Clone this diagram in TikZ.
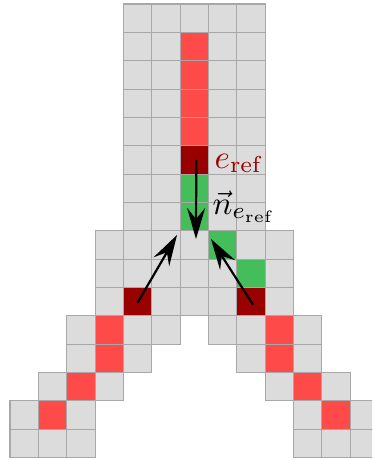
\documentclass[tikz,border=0pt]{standalone}
\usetikzlibrary{arrows.meta}
\definecolor{cellgray}{RGB}{220,220,220}
\definecolor{cellborder}{RGB}{168,168,168}
\definecolor{cellred}{RGB}{255,74,74}
\definecolor{celldark}{RGB}{153,0,0}
\definecolor{cellgreen}{RGB}{68,190,90}
\begin{document}
\begin{tikzpicture}[x=1pt,y=-1pt,
  cell/.style={draw=cellborder,fill=cellgray,minimum size=28.35pt,inner sep=0pt,outer sep=0pt,line width=1.1pt},
  arr/.style={line width=2.2pt,-{Stealth[length=31pt,width=18pt,inset=11pt]}},
  lbl/.style={inner sep=0pt,scale=3.3,anchor=base west}]
\useasboundingbox (0,0) rectangle (372,460);
\clip (0,0) rectangle (372,460);
\foreach \r/\cl in {0/{4,5,6,7,8},1/{4,5,6,7,8},2/{4,5,6,7,8},3/{4,5,6,7,8},4/{4,5,6,7,8},5/{4,5,6,7,8},6/{4,5,6,7,8},7/{4,5,6,7,8},
  8/{3,4,5,6,7,8,9},9/{3,4,5,6,7,8,9},10/{3,4,5,6,7,8,9},
  11/{2,3,4,5,7,8,9,10},12/{2,3,4,8,9,10},13/{1,2,3,9,10,11},14/{0,1,2,10,11,12},15/{0,1,2,10,11,12}}{
  \foreach \c in \cl {
    \node[cell] (c\c-\r) at ({10+28.35*(\c+0.5)},{4+28.35*(\r+0.5)}) {};
  }
}
\foreach \c/\r/\col in {6/1/cellred,6/2/cellred,6/3/cellred,6/4/cellred,6/5/celldark,6/6/cellgreen,6/7/cellgreen,
  7/8/cellgreen,8/9/cellgreen,4/10/celldark,8/10/celldark,
  3/11/cellred,3/12/cellred,2/13/cellred,1/14/cellred,
  9/11/cellred,9/12/cellred,10/13/cellred,11/14/cellred}{
  \node[cell,fill=\col] (c\c-\r) at ({10+28.35*(\c+0.5)},{4+28.35*(\r+0.5)}) {};
}
\coordinate (t1) at (196,239);
\coordinate (t2) at (177,235);
\coordinate (t3) at (211,239);
\draw[arr] ([xshift=2pt]c6-5.center) -- (t1);
\draw[arr] ([yshift=-1pt]c4-10.center) -- (t2);
\draw[arr] ([xshift=2pt,yshift=-3pt]c8-10.center) -- (t3);
\node[lbl,text=celldark] (eref) at (214,168) {$e_{\mathrm{ref}}$};
\node[lbl] (nref) at (212,214) {$\vec{n}_{e_{\mathrm{ref}}}$};
\end{tikzpicture}
\end{document}
